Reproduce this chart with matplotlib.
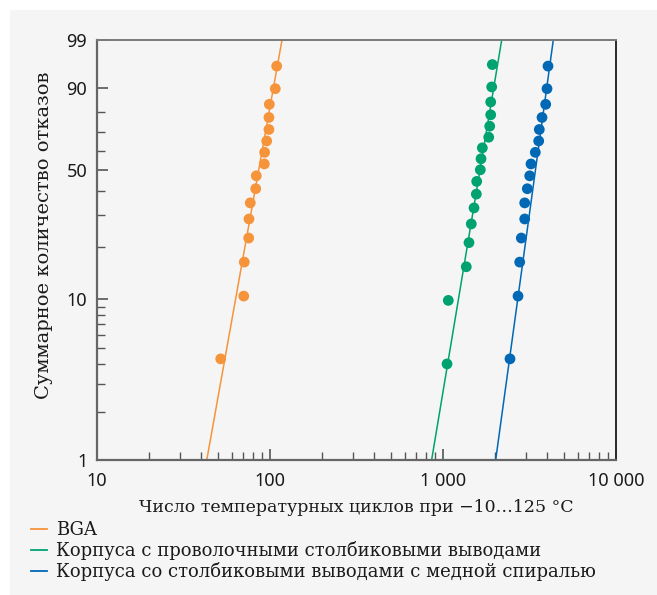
import numpy as np
import matplotlib
matplotlib.use("Agg")
import matplotlib.pyplot as plt
from matplotlib.patches import Rectangle
from matplotlib.lines import Line2D

# ---------------- data ----------------
series_names = [
    "BGA",
    "Корпуса с проволочными столбиковыми выводами",
    "Корпуса со столбиковыми выводами с медной спиралью",
]
colors = ["#f5943a", "#00a36f", "#0068b5"]

# cumulative failures, %
bga_F = [4.3, 10.4, 16.5, 22.6, 28.7, 34.8, 40.9, 47.0, 53.0, 59.1, 65.2, 71.3, 77.4, 83.5, 89.6, 95.7]
bga_cycles = [51.9, 70.5, 71.0, 75.3, 75.6, 76.9, 82.7, 83.3, 92.7, 93.1, 95.7, 98.6, 98.6, 99.1, 107.3, 109.3]

wire_F = [4.0, 9.8, 15.5, 21.3, 27.0, 32.8, 38.5, 44.3, 50.0, 55.7, 61.5, 67.2, 73.0, 78.7, 84.5, 90.2, 96.0]
wire_cycles = [1055, 1073, 1363, 1413, 1457, 1511, 1558, 1566, 1643, 1659, 1688, 1838, 1862, 1887, 1887, 1912, 1928]

cu_F = [4.3, 10.4, 16.5, 22.6, 28.7, 34.8, 40.9, 47.0, 53.0, 59.1, 65.2, 71.3, 77.4, 83.5, 89.6, 95.7]
cu_cycles = [2439, 2714, 2776, 2836, 2967, 2967, 3071, 3171, 3226, 3416, 3574, 3603, 3735, 3923, 3992, 4045]

# Weibull fit parameters (shape beta, scale eta)
fit_beta = [6.12, 6.57, 7.99]
fit_eta = [91.4, 1731, 3585]

x_major = [10, 100, 1000, 10000]
x_major_labels = ["10", "100", "1 000", "10 000"]
y_major = [1, 10, 50, 90, 99]
y_minor = [2, 3, 4, 5, 6, 7, 8, 9, 20, 30, 40, 60, 70, 80]

xlabel = "Число температурных циклов при −10…125 °C"
ylabel = "Суммарное количество отказов"

# ---------------- figure ----------------
W, H = 657, 595
fig = plt.figure(figsize=(W / 100, H / 100), dpi=100)
fig.patch.set_facecolor("white")
bg = "#f5f5f5"
fig.patches.append(Rectangle((10 / W, 0), 1 - 10 / W, 1 - 10 / H,
                             transform=fig.transFigure, facecolor=bg,
                             edgecolor="none", zorder=-10))

ax = fig.add_axes([97 / W, 1 - 460 / H, (616 - 97) / W, (460 - 40) / H])
ax.set_facecolor(bg)


def fwd(F):
    F = np.clip(np.asarray(F, dtype=float), 1e-6, 100 - 1e-6)
    return np.log(-np.log(1 - F / 100.0))


def inv(w):
    return 100.0 * (1 - np.exp(-np.exp(w)))


ax.set_xscale("log")
ax.set_yscale("function", functions=(fwd, inv))
ax.set_xlim(10, 10000)
ax.set_ylim(1, 99)

xs = np.logspace(1, 4, 600)
data = [(bga_cycles, bga_F), (wire_cycles, wire_F), (cu_cycles, cu_F)]
for (cx, cf), b, e, c, name in zip(data, fit_beta, fit_eta, colors, series_names):
    Fline = 100 * (1 - np.exp(-(xs / e) ** b))
    ax.plot(xs, Fline, color=c, lw=1.1, zorder=2)
    ax.scatter(cx, cf, s=60, color=c, edgecolors="none", zorder=3)

tick_font = ["Noto Sans", "DejaVu Sans"]
serif = ["DejaVu Serif"]

ax.set_xticks(x_major)
ax.set_xticklabels(x_major_labels, fontfamily=tick_font, fontsize=13)
minors = [m * d for d in (10, 100, 1000) for m in range(2, 10)]
ax.set_xticks(minors, minor=True)
ax.set_xticklabels([], minor=True)
ax.set_yticks(y_major)
ax.set_yticklabels([str(v) for v in y_major], fontfamily=tick_font, fontsize=13)
ax.set_yticks(y_minor, minor=True)
ax.set_yticklabels([], minor=True)

tc = "#555555"
ax.tick_params(which="major", direction="in", length=8, width=1.2, color=tc,
               labelcolor="#1a1a1a")
ax.tick_params(which="minor", direction="in", length=6, width=1.0, color=tc)
ax.tick_params(axis="y", which="major", pad=7)
ax.tick_params(axis="x", which="major", pad=9)

for s in ("left", "bottom"):
    ax.spines[s].set_color("#666666")
    ax.spines[s].set_linewidth(1.6)
ax.spines["top"].set_color("#7a7a7a")
ax.spines["top"].set_linewidth(1.4)
ax.spines["right"].set_color("#2a2a2a")
ax.spines["right"].set_linewidth(1.4)

ax.set_xlabel(xlabel, fontfamily=serif, fontsize=12.5, color="#1a1a1a", labelpad=6)
ax.set_ylabel(ylabel, fontfamily=serif, fontsize=14, color="#1a1a1a")
ax.yaxis.set_label_coords(-44 / (616 - 97), 0.535)

handles = [Line2D([0], [0], color=c, lw=1.3) for c in colors]
fig.legend(handles, series_names, loc="upper left",
           bbox_to_anchor=(24 / W, 1 - 514 / H), frameon=False,
           prop={"family": serif, "size": 13}, handlelength=0.9,
           handletextpad=0.45, labelspacing=0.1, borderaxespad=0,
           labelcolor="#1a1a1a")

fig.savefig("out.png", dpi=100, facecolor=fig.get_facecolor())
